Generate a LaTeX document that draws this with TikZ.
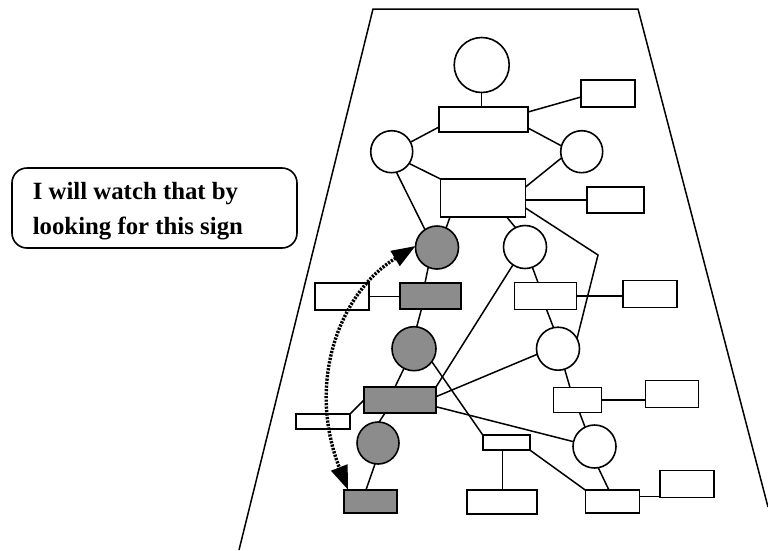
\documentclass[tikz,border=0pt]{standalone}
\usepackage{fontspec}
\setmainfont{Liberation Serif}
\usetikzlibrary{arrows.meta}
\begin{document}
\begin{tikzpicture}[x=1pt,y=-1pt,line width=1.6pt,
  circ/.style={circle,draw,fill=white,inner sep=0pt,outer sep=0pt,minimum size=#1},
  box/.style n args={2}{rectangle,draw,fill=white,inner sep=0pt,outer sep=0pt,minimum width=#1,minimum height=#2},
  shaded/.style={fill=black!45},
  link/.style={draw,line width=1.5pt},
  watch/.style={line width=3.4pt,dash pattern=on 2.2pt off 1.3pt,
    {Triangle[length=24pt,width=17pt]}-{Triangle[length=24pt,width=17pt]}},
  saytext/.style={anchor=base west,inner sep=0pt,font=\fontsize{24.8}{30}\selectfont\bfseries}]
\useasboundingbox (0,0) rectangle (768,550);
% frame
\coordinate (fbl) at (239,550);
\coordinate (ftl) at (373,9);
\coordinate (ftr) at (638,9);
\coordinate (fbr) at (768,507);
\draw[line width=1.5pt] (fbl) -- (ftl) -- (ftr) -- (fbr);
% speech box
\node (say) [draw,rounded corners=15pt,minimum width=285pt,minimum height=80pt,inner sep=0pt] at (154.5,208) {};
\node (say1) [saytext] at (32,199) {I will watch that by};
\node (say2) [saytext] at (32,234) {looking for this sign};
% circles
\node (C1) [circ=55pt] at (481.7,65) {};
\node (C2) [circ=42pt] at (391.7,151.7) {};
\node (C3) [circ=42pt] at (581.7,151.7) {};
\node (G1) [circ=43pt,shaded] at (437,247.5) {};
\node (C4) [circ=43pt] at (525,247) {};
\node (G2) [circ=44pt,shaded] at (414,348.7) {};
\node (C5) [circ=43pt] at (558,348.7) {};
\node (G3) [circ=42pt,shaded] at (378,443) {};
\node (C6) [circ=43pt] at (594.5,446.5) {};
% boxes
\node (R1) [box={89pt}{25pt}] at (483.5,119.5) {};
\node (R2) [box={54pt}{27pt}] at (608,93.5) {};
\node (R3) [box={85pt}{38pt}] at (483,198) {};
\node (R4) [box={57pt}{26pt}] at (615.5,200) {};
\node (R5) [box={54pt}{27pt}] at (342,296.5) {};
\node (GR1) [box={61pt}{26pt},shaded] at (430.5,296) {};
\node (R7) [box={62pt}{27pt}] at (545.5,296) {};
\node (R8) [box={54pt}{27pt}] at (650,294) {};
\node (GR2) [box={72pt}{26pt},shaded] at (400,400) {};
\node (R9) [box={48pt}{25pt}] at (577.5,400) {};
\node (R10) [box={53pt}{27pt}] at (672,394) {};
\node (R6) [box={54pt}{15pt}] at (323,421.5) {};
\node (R11) [box={47pt}{15pt}] at (506.3,442.5) {};
\node (R12) [box={70pt}{24pt}] at (501.7,502) {};
\node (R13) [box={54pt}{23pt}] at (612.5,501.7) {};
\node (R14) [box={54pt}{27pt}] at (687,484) {};
\node (GR3) [box={53pt}{23pt},shaded] at (370.5,501.3) {};
\coordinate (K) at (598,255);
% connectors
\path[link] (C1.south) -- (C1.south |- R1.north);
\path[link] ([yshift=7.5pt]R1.east) -- ([yshift=-3.5pt]R2.west);
\path[link] ([yshift=-7.5pt]R1.west) -- (C2.27);
\path[link] ([yshift=-8.5pt]R1.east) -- (C3.164);
\path[link] (C2.-34) -- (R3.north west);
\path[link] (C3.197) -- ([yshift=-8pt]R3.north east);
\path[link] (R3.east |- R4.west) -- (R4.west);
\path[link] (C2.-77) -- (G1.124);
\path[link] ([xshift=-33pt]R3.south) -- (G1.65);
\path[link] ([xshift=23.7pt]R3.south) -- (C4.116);
\path[link] ([yshift=-10pt]R3.east) -- (K) -- (C5.28);
\path[link] (G1.-114) -- ([xshift=-5.5pt]GR1.north);
\path[link] (R5.east) -- (R5.east -| GR1.west);
\path[link] ([xshift=-9pt]GR1.south) -- (G2.83);
\path[link] (G2.-117) -- ([xshift=-5pt]GR2.north);
\path[link] (G2.-36) -- (R11.north west);
\path[link] (C4.-124) -- (GR2.north east);
\path[link] (C4.-70) -- ([xshift=-7.5pt]R7.north);
\path[link] (R7.east) -- (R7.east -| R8.west);
\path[link] ([xshift=1pt]R7.south) -- (C5.102);
\path[link] ([yshift=3.3pt]GR2.east) -- (C5.195);
\path[link] (C5.-72) -- ([xshift=-7.5pt]R9.north);
\path[link] (R9.east) -- (R9.east -| R10.west);
\path[link] ([xshift=2pt]R9.south) -- (C6.116);
\path[link] ([yshift=-6.7pt]GR2.east) -- (C6.167);
\path[link] (C6.-80) -- ([xshift=-3.5pt]R13.north);
\path[link] ([xshift=-4pt]R11.south) -- ([xshift=-4pt]R11.south |- R12.north);
\path[link] (R11.south east) -- (R13.north west);
\path[link] ([yshift=5pt]R13.east) -- ([yshift=5pt]R13.east -| R14.west);
\path[link] ([xshift=-15pt]GR2.south) -- (G3.87);
\path[link] (R6.north east) -- (GR2.west);
\path[link] (G3.-98) -- ([xshift=-4.5pt]GR3.north);
% dotted watch arrow
\draw[watch] (G1.176) .. controls (339.5,292.5) and (306,382) .. ([xshift=4pt]GR3.north west);
\end{tikzpicture}
\end{document}
